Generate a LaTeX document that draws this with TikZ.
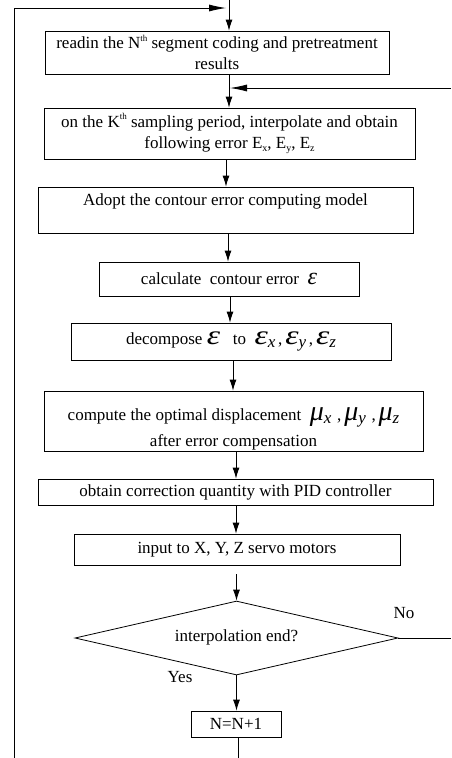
\documentclass[tikz,border=0pt]{standalone}
\usepackage{fontspec}
\usepackage{graphicx}
\setmainfont{Liberation Serif}
\usetikzlibrary{shapes.geometric,arrows.meta}
% larger italic symbols and their lowered indices
\newcommand\gk[2][24]{{\fontsize{#1}{#1}\selectfont\itshape #2}}
\newcommand\wgk[1]{\scalebox{1.25}[1]{\gk[27]{#1}}}
\newcommand\ix[1]{\raisebox{-0.45ex}{\fontsize{17}{17}\selectfont\itshape #1}}
\newcommand\rix[1]{\raisebox{-0.3ex}{\fontsize{10}{10}\selectfont #1}}
\newcommand\rsup[1]{\raisebox{1.0ex}{\fontsize{9}{9}\selectfont #1}}

\begin{document}
\begin{tikzpicture}[x=1pt,y=-1pt,
  every node/.style={font=\fontsize{17}{21}\selectfont, inner sep=0pt},
  procbox/.style={draw, line width=0.8pt, align=center},
  arr/.style={draw, line width=0.8pt, -{Latex[length=11pt,width=7pt]}},
  harr/.style={draw, line width=0.8pt, -{Latex[length=17pt,width=7pt]}},
  ln/.style={draw, line width=0.8pt}]
\useasboundingbox (0,0) rectangle (451,758);

% process steps
\node[procbox, minimum width=344pt, minimum height=43pt] (b1) at (217,52.5)
  {readin the N\rsup{th} segment coding and pretreatment\\results};
\node[procbox, minimum width=371pt, minimum height=51pt] (b2) at (229.5,133.5)
  {on the K\rsup{th} sampling period, interpolate and obtain\\following error E\rix{x}, E\rix{y}, E\rix{z}};
\node[procbox, minimum width=375pt, minimum height=46pt] (b3) at (225.5,210)
  {Adopt the contour error computing model\\~};
\node[procbox, minimum width=260pt, minimum height=34pt] (b4) at (229,279)
  {calculate \ contour error \ \gk{ε}};
\node[procbox, minimum width=320pt, minimum height=37pt] (b5) at (231,341.5)
  {decompose \wgk{ε} \ \ to \ \wgk{ε}\ix{x}\,,\,\wgk{ε}\ix{y}\,,\,\wgk{ε}\ix{z}};
\node[procbox, minimum width=379pt, minimum height=60pt,
      font=\fontsize{17}{26}\selectfont] (b6) at (233.5,421)
  {\rule{0pt}{28pt}compute the optimal displacement \ \gk[28]{μ}\ix{x}\,\,,\,\gk[28]{μ}\ix{y}\,\,,\,\gk[28]{μ}\ix{z}\\after error compensation};
\node[procbox, minimum width=395pt, minimum height=26pt] (b7) at (235.5,492)
  {obtain correction quantity with PID controller};
\node[procbox, minimum width=326pt, minimum height=31pt] (b8) at (237,549.5)
  {input to X, Y, Z servo motors};
\node[draw, line width=0.8pt, diamond, aspect=4.36,
      minimum width=323pt, minimum height=74pt] (d) at (236.5,638)
  {\raisebox{5pt}{interpolation end?}};
\node[procbox, minimum width=90pt, minimum height=26pt] (b9) at (236,724) {N=N+1};

% branch labels
\node (no) at (404,613) {No};
\node (yes) at (180,677) {Yes};

% free ends of the connectors
\coordinate (t0) at (229,0);
\coordinate (lt) at (226,8);
\coordinate (lb) at (14,758);
\coordinate (r1) at (451,88);
\coordinate (j1) at (230,88);
\coordinate (r2) at (451,638);
\coordinate (bt) at (238,758);

% main flow
\draw[arr] (t0) -- (b1.north -| t0);
\draw[arr] (b1.south -| t0) -- (b2.north -| t0);
\draw[arr] (b2.south -| 226,0) -- (b3.north -| 226,0);
\draw[arr] (b3.south -| 228,0) -- (b4.north -| 228,0);
\draw[arr] (b4.south -| 230,0) -- (b5.north -| 230,0);
\draw[arr] (b5.south -| 233,0) -- (b6.north -| 233,0);
\draw[arr] (b6.south -| 236,0) -- (b7.north -| 236,0);
\draw[arr] (b7.south -| 236,0) -- (b8.north -| 236,0);
\draw[arr, shorten <=9pt] (b8.south -| d.north) -- (d.north);
\draw[arr] (d.south) -- (b9.north -| d.south);
\draw[ln] (b9.south -| bt) -- (bt);

% loops
\draw[harr] (lb) |- (lt);
\draw[harr] (r1) -- (j1);
\draw[ln] (d.east) -- (r2);
\end{tikzpicture}
\end{document}
